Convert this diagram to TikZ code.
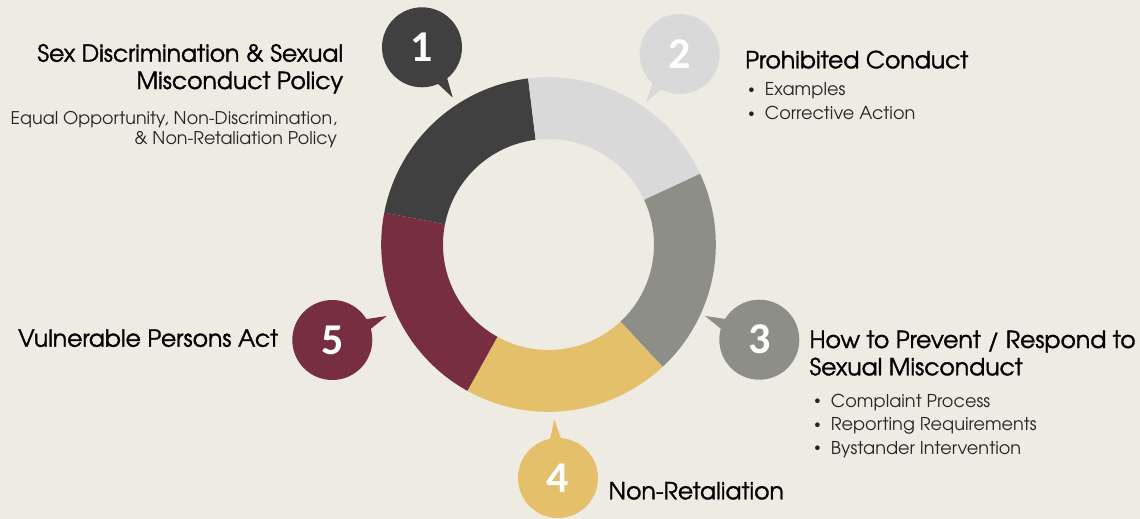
\documentclass[tikz,border=0pt]{standalone}
\usepackage{fontspec}
\setmainfont{TeX Gyre Adventor}
\newfontfamily\grassetto{TeX Gyre Adventor}[FakeBold=1.3]
\newfontfamily\cifre{Carlito}
\definecolor{sfondo}{RGB}{238,235,227}
\definecolor{uno}{RGB}{64,64,64}
\definecolor{due}{RGB}{217,217,217}
\definecolor{tre}{RGB}{141,142,135}
\definecolor{quattro}{RGB}{229,192,106}
\definecolor{cinque}{RGB}{119,46,64}
\newcommand\punto{\makebox[16.7pt][l]{\raisebox{2.2pt}{\fontsize{13}{13}\selectfont\textbullet}}}
\tikzset{
  titolo/.style={inner sep=0pt,font=\grassetto\fontsize{23.5}{27.3}\selectfont},
  voce/.style={inner sep=0pt,text=black!85,font=\fontsize{17.5}{20}\selectfont},
  elenco/.style={inner sep=0pt,text=black!85,align=left,font=\fontsize{17.7}{23.5}\selectfont},
  numero/.style={inner sep=0pt,text=white,font=\cifre\bfseries\fontsize{44}{44}\selectfont},
}
\begin{document}
\begin{tikzpicture}[x=1pt,y=1pt]
         %sfondo
         \fill[sfondo] (0,0) rectangle (1140,-519);
         \useasboundingbox (0,0) rectangle (1140,-519);
         %anello
         \begin{scope}[shift={(548.5,-244.5)}]
         \fill[uno] (97:167.3pt) arc[start angle=97,end angle=169,radius=167.3pt] -- (169:105.5pt) arc[start angle=169,end angle=97,radius=105.5pt] -- cycle;
         \fill[due] (25:167.3pt) arc[start angle=25,end angle=97,radius=167.3pt] -- (97:105.5pt) arc[start angle=97,end angle=25,radius=105.5pt] -- cycle;
         \fill[tre] (-47:167.3pt) arc[start angle=-47,end angle=25,radius=167.3pt] -- (25:105.5pt) arc[start angle=25,end angle=-47,radius=105.5pt] -- cycle;
         \fill[quattro] (-119:167.3pt) arc[start angle=-119,end angle=-47,radius=167.3pt] -- (-47:105.5pt) arc[start angle=-47,end angle=-119,radius=105.5pt] -- cycle;
         \fill[cinque] (169:167.3pt) arc[start angle=169,end angle=241,radius=167.3pt] -- (241:105.5pt) arc[start angle=241,end angle=169,radius=105.5pt] -- cycle;
         \end{scope}
         %bolle
         %prima
         \fill[uno] (422,-47.3) circle (40pt);
         \fill[uno,shift={(422,-47.3)}] (-49.6:38pt) -- (-58.6:59pt) -- (-67.6:38pt) -- cycle;
         \node[numero] (n1) at (422,-47.3) {1};
         %seconda
         \fill[due] (679.7,-54) circle (40pt);
         \fill[due,shift={(679.7,-54)}] (-116.2:38pt) -- (-125.2:58.4pt) -- (-134.2:38pt) -- cycle;
         \node[numero] (n2) at (679.7,-54) {2};
         %terza
         \fill[tre] (759.3,-339.7) circle (40pt);
         \fill[tre,shift={(759.3,-339.7)}] (147.4:38pt) -- (156.4:59.2pt) -- (165.4:38pt) -- cycle;
         \node[numero] (n3) at (759.3,-339.7) {3};
         %quarta
         \fill[quattro] (558,-478) circle (40pt);
         \fill[quattro,shift={(558,-478)}] (84.6:38pt) -- (93.6:58.8pt) -- (102.6:38pt) -- cycle;
         \node[numero] (n4) at (558,-478) {4};
         %quinta
         \fill[cinque] (332.3,-340) circle (40pt);
         \fill[cinque,shift={(332.3,-340)}] (14.8:38pt) -- (23.8:59.5pt) -- (32.8:38pt) -- cycle;
         \node[numero] (n5) at (332.3,-340) {5};
         %testi
         \node[titolo,anchor=base east,align=right] (t1) at (343.3,-89) {Sex Discrimination \& Sexual\\Misconduct Policy};
         \node[voce,anchor=base east,align=right] (s1) at (337.3,-144.3) {Equal Opportunity, Non-Discrimination,\\\& Non-Retaliation Policy};
         \node[titolo,anchor=base west] (t2) at (745,-68.3) {Prohibited Conduct};
         \node[elenco,anchor=base west] (s2) at (748,-119.2) {\punto Examples\\\punto Corrective Action};
         \node[titolo,anchor=base west,align=left] (t3) at (809.3,-375.3) {How to Prevent / Respond to\\Sexual Misconduct};
         \node[elenco,anchor=base west] (s3) at (814,-454) {\punto Complaint Process\\\punto Reporting Requirements\\\punto Bystander Intervention};
         \node[titolo,anchor=base west] (t4) at (608.3,-499.3) {Non-Retaliation};
         \node[titolo,anchor=base east] (t5) at (278.3,-346.7) {Vulnerable Persons Act};
       \end{tikzpicture}
\end{document}
